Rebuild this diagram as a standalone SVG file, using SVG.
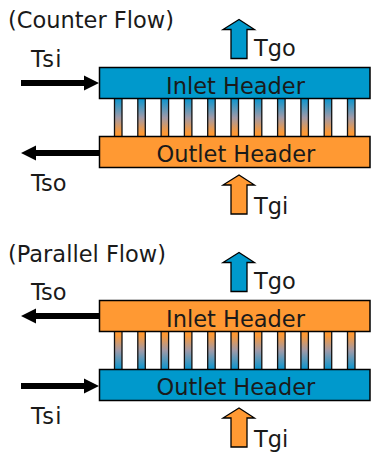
<svg xmlns="http://www.w3.org/2000/svg" width="371" height="453" viewBox="0 0 371 453">
<style>
text{font-family:"DejaVu Sans",Verdana,sans-serif;font-size:22.500px;fill:#1a1a1a}
.h{stroke:#000;stroke-width:1.5}
.b{fill:#0099cc}
.o{fill:#ff9933}
.t{stroke:#111;stroke-width:1.3}
.k{fill:#000;stroke:none}
.s{letter-spacing:1.2px}
</style>
<defs>
<linearGradient id="bo" x1="0" y1="0" x2="0" y2="1"><stop offset="0.05" stop-color="#1496cc"/><stop offset="0.5" stop-color="#a09aa8"/><stop offset="0.9" stop-color="#ff9933"/></linearGradient>
<linearGradient id="ob" x1="0" y1="0" x2="0" y2="1"><stop offset="0.1" stop-color="#ff9933"/><stop offset="0.5" stop-color="#a09aa8"/><stop offset="0.95" stop-color="#1496cc"/></linearGradient>
<g id="tubes">
<rect x="114.500" width="7.500" height="39"/><rect x="137.800" width="7.500" height="39"/><rect x="161.100" width="7.500" height="39"/><rect x="184.400" width="7.500" height="39"/><rect x="207.700" width="7.500" height="39"/><rect x="231" width="7.500" height="39"/><rect x="254.300" width="7.500" height="39"/><rect x="277.600" width="7.500" height="39"/><rect x="300.900" width="7.500" height="39"/><rect x="324.200" width="7.500" height="39"/><rect x="347.500" width="7.500" height="39"/>
</g>
<path id="up" d="M239 0L223 10H231V39H247V10H254.500Z" stroke="#000" stroke-width="1.300"/>
<path id="right" d="M21 0H84V-4.500L99 3 84 10.500V6H21Z"/>
<path id="left" d="M99 0H36V-4.500L21 3 36 10.500V6H99Z"/>
</defs>
<text x="8" y="28">(Counter Flow)</text>
<text x="8" y="261.500">(Parallel Flow)</text>
<g id="connectors">
<use href="#right" class="k" y="80"/>
<use href="#left" class="k" y="150"/>
<use href="#up" class="b" y="19.500"/>
<use href="#up" class="o" y="175"/>
<use href="#left" class="k" y="313"/>
<use href="#right" class="k" y="383"/>
<use href="#up" class="b" y="252.500"/>
<use href="#up" class="o" y="408"/>
</g>
<g id="tubes-counter"><use href="#tubes" y="98" fill="url(#bo)" class="t"/></g>
<g id="tubes-parallel"><use href="#tubes" y="331" fill="url(#ob)" class="t"/></g>
<g id="inlet-counter"><rect class="h b" x="99.500" y="67.500" width="270.500" height="31"/><text x="166" y="93.500">Inlet Header</text></g>
<g id="outlet-counter"><rect class="h o" x="99.500" y="136.500" width="270.500" height="31"/><text x="156.500" y="161.500">Outlet Header</text></g>
<g id="inlet-parallel"><rect class="h o" x="99.500" y="300.500" width="270.500" height="31"/><text x="166" y="326.500">Inlet Header</text></g>
<g id="outlet-parallel"><rect class="h b" x="99.500" y="369.500" width="270.500" height="31"/><text x="156.500" y="394.500">Outlet Header</text></g>
<text class="s" x="31" y="67">Tsi</text>
<text x="31" y="191">Tso</text>
<text x="254" y="56">Tgo</text>
<text x="254" y="214">Tgi</text>
<text x="31" y="300">Tso</text>
<text class="s" x="31" y="424">Tsi</text>
<text x="254" y="289">Tgo</text>
<text x="254" y="447">Tgi</text>
</svg>
